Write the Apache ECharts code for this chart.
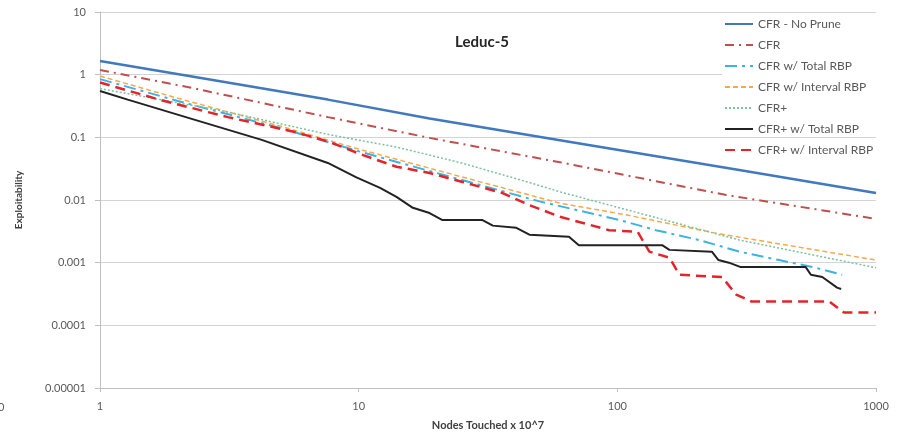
<!DOCTYPE html>
<html>
<head>
<meta charset="utf-8">
<title>Leduc-5</title>
<script src="https://cdn.jsdelivr.net/npm/echarts@6/dist/echarts.min.js"></script>
<style>
  html, body { margin: 0; padding: 0; background: #ffffff; }
  #chart { width: 901px; height: 440px; }
</style>
</head>
<body>
<div id="chart"></div>
<script>
// Exploitability vs. nodes touched (x 10^7), log-log
const seriesNames = [
  'CFR - No Prune',
  'CFR',
  'CFR w/ Total RBP',
  'CFR w/ Interval RBP',
  'CFR+',
  'CFR+ w/ Total RBP',
  'CFR+ w/ Interval RBP'
];

const xTicks = [1, 10, 100, 1000];
const yTicks = [0.00001, 0.0001, 0.001, 0.01, 0.1, 1, 10];

const noPruneNodes = [1, 2.33, 7.6, 18.8, 65, 296, 1000];
const noPruneExpl  = [1.65, 0.92, 0.40, 0.20, 0.085, 0.030, 0.0129];

const cfrNodes = [1, 2.33, 7.6, 18.8, 60, 264, 1000];
const cfrExpl  = [1.19, 0.60, 0.21, 0.098, 0.040, 0.012, 0.0050];

const cfrTotalNodes = [1, 2, 5, 10, 20, 50, 102, 141, 207, 296, 422, 585, 740];
const cfrTotalExpl  = [0.85, 0.38, 0.14, 0.060, 0.027, 0.0095, 0.0048, 0.0033, 0.0023, 0.0015, 0.0011, 0.00083, 0.00064];

const cfrIntervalNodes = [1, 2, 5, 10, 20, 60, 108, 246, 1000];
const cfrIntervalExpl  = [0.95, 0.42, 0.15, 0.065, 0.030, 0.0089, 0.0058, 0.0029, 0.0011];

const cfrPlusNodes = [1, 3.12, 7.7, 14, 25, 45.7, 60, 296, 1000];
const cfrPlusExpl  = [0.60, 0.254, 0.11, 0.070, 0.039, 0.019, 0.0135, 0.0023, 0.00083];

const plusTotalNodes = [1, 1.28, 2.33, 4.22, 7.6, 9.8, 12.1, 14, 16.2, 18.8, 21, 30, 33, 40.7, 45.7, 65, 71, 149, 159, 232, 246, 270, 300, 535, 560, 620, 707, 733];
const plusTotalExpl  = [0.55, 0.40, 0.19, 0.091, 0.039, 0.023, 0.0156, 0.0112, 0.0075, 0.0062, 0.0048, 0.0048, 0.0039, 0.0036, 0.0028, 0.0026, 0.0019, 0.0019, 0.0016, 0.0015, 0.0011, 0.0010, 0.00085, 0.00085, 0.00064, 0.00059, 0.00040, 0.00038];

const plusIntervalNodes = [1, 1.73, 3.12, 5.66, 7.7, 10.4, 14, 18.8, 25.2, 36, 45.7, 60, 93, 120, 125, 133, 159, 174, 254, 288, 330, 660, 752, 1000];
const plusIntervalExpl  = [0.75, 0.39, 0.21, 0.122, 0.0845, 0.052, 0.034, 0.027, 0.0194, 0.0129, 0.0083, 0.0054, 0.0033, 0.0031, 0.0023, 0.0015, 0.0012, 0.00064, 0.00059, 0.00031, 0.00024, 0.00024, 0.00016, 0.00016];

const zip = (xs, ys) => xs.map((x, i) => [x, ys[i]]);

const styles = [
  { color: '#4178BE', width: 2.5, type: 'solid' },
  { color: '#C0504D', width: 2, type: [9, 5, 2, 5] },
  { color: '#3DB2E3', width: 2, type: [12, 5, 3, 5] },
  { color: '#F6A94C', width: 1.5, type: [5, 3] },
  { color: '#7CC29A', width: 1.5, type: [2, 2] },
  { color: '#222222', width: 2, type: 'solid' },
  { color: '#E3242B', width: 2.5, type: [10, 6] }
];

const dataSets = [
  zip(noPruneNodes, noPruneExpl),
  zip(cfrNodes, cfrExpl),
  zip(cfrTotalNodes, cfrTotalExpl),
  zip(cfrIntervalNodes, cfrIntervalExpl),
  zip(cfrPlusNodes, cfrPlusExpl),
  zip(plusTotalNodes, plusTotalExpl),
  zip(plusIntervalNodes, plusIntervalExpl)
];

const fontFamily = 'Lato, "Open Sans", sans-serif';
const textGray = '#595959';

function decimalLabel(v) {
  const e = Math.round(Math.log10(v));
  if (e >= 0) return String(Math.pow(10, e));
  return '0.' + '0'.repeat(-e - 1) + '1';
}

const chart = echarts.init(document.getElementById('chart'), null, { renderer: 'canvas' });

chart.setOption({
  animation: false,
  backgroundColor: '#ffffff',
  textStyle: { fontFamily: fontFamily },
  title: {
    text: 'Leduc-5',
    left: 477,
    top: 30,
    textAlign: 'center',
    textStyle: { fontFamily: fontFamily, fontSize: 15, fontWeight: 'bold', color: '#262626' }
  },
  grid: { left: 100, right: 25, top: 12, bottom: 52 },
  legend: {
    orient: 'vertical',
    left: 719,
    top: 13,
    itemWidth: 28,
    itemHeight: 14,
    itemGap: 9,
    data: seriesNames,
    itemStyle: { opacity: 0 },
    textStyle: { fontFamily: fontFamily, fontSize: 12, color: textGray }
  },
  graphic: [
    {
      type: 'rect',
      z: 1,
      shape: { x: 722, y: 18, width: 156, height: 116 },
      style: { fill: '#ffffff' },
      silent: true
    },
    {
      type: 'text',
      x: -2,
      y: 402,
      style: { text: '0', fontFamily: fontFamily, fontSize: 11, fill: textGray }
    }
  ],
  xAxis: {
    type: 'log',
    logBase: 10,
    min: xTicks[0],
    max: xTicks[xTicks.length - 1],
    name: 'Nodes Touched x 10^7',
    nameLocation: 'middle',
    nameGap: 32,
    nameTextStyle: { fontFamily: fontFamily, fontSize: 11, fontWeight: 'bold', color: '#404040' },
    axisLine: { show: true, lineStyle: { color: '#BFBFBF', width: 1 } },
    axisTick: { show: true, length: 4, lineStyle: { color: '#BFBFBF' } },
    axisLabel: {
      margin: 13,
      fontFamily: fontFamily,
      fontSize: 11,
      color: textGray,
      formatter: v => decimalLabel(v)
    },
    splitLine: { show: false },
    minorTick: { show: false }
  },
  yAxis: {
    type: 'log',
    logBase: 10,
    min: yTicks[0],
    max: yTicks[yTicks.length - 1],
    name: 'Exploitability',
    nameLocation: 'middle',
    nameGap: 76,
    nameTextStyle: { fontFamily: fontFamily, fontSize: 10, fontWeight: 'bold', color: '#404040' },
    axisLine: { show: true, lineStyle: { color: '#BFBFBF', width: 1 } },
    axisTick: { show: true, length: 5, lineStyle: { color: '#BFBFBF' } },
    axisLabel: {
      margin: 14,
      fontFamily: fontFamily,
      fontSize: 11,
      color: textGray,
      formatter: v => decimalLabel(v)
    },
    splitLine: { show: true, lineStyle: { color: '#D4D4D4', width: 1 } },
    minorTick: { show: false }
  },
  series: seriesNames.map((name, i) => ({
    name: name,
    type: 'line',
    data: dataSets[i],
    symbol: 'none',
    showSymbol: false,
    smooth: false,
    lineStyle: styles[i],
    itemStyle: { color: styles[i].color },
    z: 2 + (i === 5 ? 1 : 0)
  }))
});
</script>
</body>
</html>
